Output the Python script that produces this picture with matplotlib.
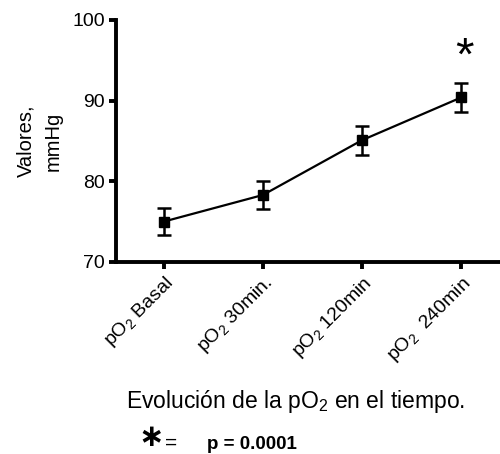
import matplotlib
matplotlib.use("Agg")
import matplotlib.pyplot as plt

categories = [r"pO$_2$ Basal", r"pO$_2$ 30min.", r"pO$_2$ 120min", r"pO$_2$  240min"]
means = [75.0, 78.3, 85.1, 90.4]
errors = [1.7, 1.7, 1.8, 1.8]
yticks = [70, 80, 90, 100]

plt.rcParams['font.family'] = ['Liberation Sans', 'DejaVu Sans']
plt.rcParams['mathtext.fontset'] = 'custom'
plt.rcParams['mathtext.rm'] = 'Liberation Sans'
plt.rcParams['mathtext.it'] = 'Liberation Sans'

fig = plt.figure(figsize=(5.0, 4.54), dpi=100)
ax = fig.add_axes([0.232, 0.423, 0.768, 0.533])

x = list(range(len(categories)))
ax.errorbar(x, means, yerr=errors, fmt='s-', color='black', ms=6.5, lw=1.6,
            elinewidth=1.8, capsize=5, capthick=1.8)
ax.text(x[-1] + 0.03, 95.3, '*', ha='center', va='center', fontsize=34)

ax.set_xlim(-0.48, 3.39)
ax.set_ylim(70, 100)
ax.set_yticks(yticks)
ax.set_yticklabels([str(v) for v in yticks], fontsize=14)
ax.set_xticks(x)
ax.set_xticklabels(categories, rotation=45, ha='right', rotation_mode='anchor', fontsize=14)
for s in ['top', 'right']:
    ax.spines[s].set_visible(False)
for s in ['left', 'bottom']:
    ax.spines[s].set_linewidth(2.8)
ax.tick_params(axis='both', width=2.8, length=5, direction='out', pad=3)

ax.set_ylabel("Valores,\nmmHg", fontsize=14.5, labelpad=7, linespacing=1.55)

fig.text(0.592, 0.116, r"Evolución de la pO$_2$ en el tiempo.", ha='center', va='center', fontsize=16.5)
fig.text(0.276, 0.004, '\u2217', ha='left', va='bottom', fontsize=22, fontweight='bold',
         family=['DejaVu Sans'])
fig.text(0.33, 0.024, '=', ha='left', va='center', fontsize=15)
fig.text(0.414, 0.02, 'p = 0.0001', ha='left', va='center', fontsize=13.5, fontweight='bold')

fig.savefig('out.png', dpi=100)
